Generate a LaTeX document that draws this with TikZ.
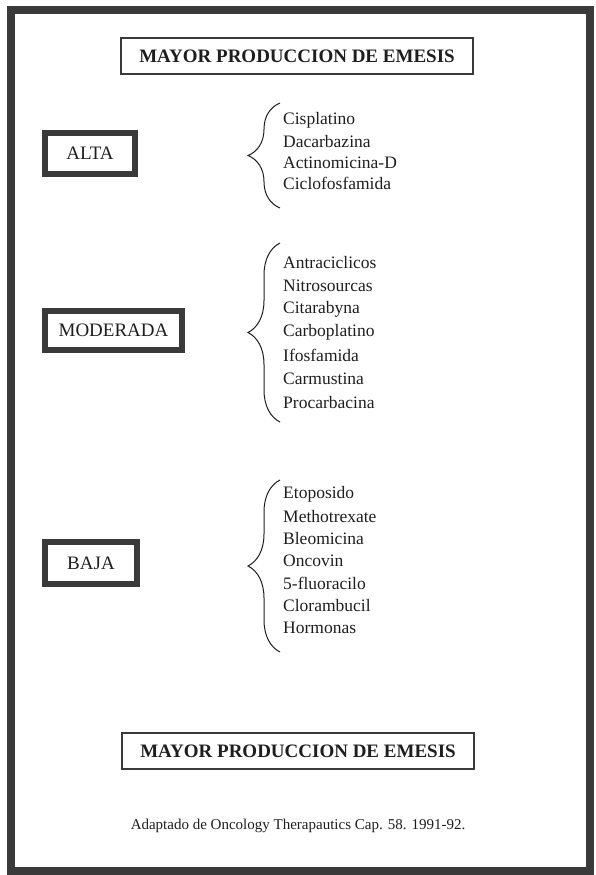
\documentclass[tikz,border=0pt]{standalone}
\usepackage{fontspec}
\setmainfont{Liberation Serif}
\usetikzlibrary{positioning,decorations.pathreplacing}

\definecolor{framegray}{HTML}{3A3A3A}
\definecolor{inkgray}{HTML}{1E1E1E}
\newcommand\headtextstyle{\fontsize{19}{21}\selectfont\bfseries}
\newcommand\leveltextstyle{\fontsize{19}{21}\selectfont}
\newcommand\drugtextstyle{\fontsize{17.5}{19}\selectfont}
\newcommand\notetextstyle{\fontsize{15}{17}\selectfont}
\newcommand\bracex{280}
\tikzset{
  headbox/.style={draw=framegray, line width=1.3, minimum width=352, minimum height=36,
    inner sep=0, text=inkgray, font=\headtextstyle},
  levelbox/.style={draw=framegray, line width=6, inner sep=0, text=inkgray, font=\leveltextstyle},
  drugtext/.style={anchor=west, inner sep=0, text=inkgray, font=\drugtextstyle},
  drugbrace/.style={draw=inkgray, line width=1, decorate,
    decoration={brace, amplitude=32}},
}

\begin{document}
\begin{tikzpicture}[x=1pt, y=-1pt]
  \useasboundingbox (0,0) rectangle (596,875);
  \draw[line width=8, framegray] (11,10) rectangle (590,871);

  \node[headbox] (headtop) at (297,56) {MAYOR PRODUCCION DE EMESIS};
  \node[headbox] (headbottom) at (298,751) {MAYOR PRODUCCION DE EMESIS};

  % niveles
  \node[levelbox, minimum width=90, minimum height=41] (alta) at (90,153.5) {ALTA};
  \node[levelbox, minimum width=137, minimum height=39] (moderada) at (113.5,330.5) {MODERADA};
  \node[levelbox, minimum width=92, minimum height=42] (baja) at (91,563) {BAJA};

  % farmacos
  \foreach \drug [count=\i] in {Cisplatino, Dacarbazina, Actinomicina-D, Ciclofosfamida}
    \node[drugtext] (alta-\i) at (283, {120+21.3*(\i-1)}) {\drug};
  \foreach \drug [count=\i] in {Antraciclicos, Nitrosourcas, Citarabyna, Carboplatino,
      Ifosfamida, Carmustina, Procarbacina}
    \node[drugtext] (moderada-\i) at (283, {263+23.2*(\i-1)}) {\drug};
  \foreach \drug [count=\i] in {Etoposido, Methotrexate, Bleomicina, Oncovin,
      5-fluoracilo, Clorambucil, Hormonas}
    \node[drugtext] (baja-\i) at (283, {494+22.3*(\i-1)}) {\drug};

  % llaves
  \coordinate (alta-top) at (\bracex,103);
  \coordinate (alta-bot) at (\bracex,208);
  \coordinate (moderada-top) at (\bracex,243);
  \coordinate (moderada-bot) at (\bracex,422);
  \coordinate (baja-top) at (\bracex,480);
  \coordinate (baja-bot) at (\bracex,652);
  \draw[drugbrace] (alta-bot) -- (alta-top);
  \draw[drugbrace] (moderada-bot) -- (moderada-top);
  \draw[drugbrace] (baja-bot) -- (baja-top);

  \node[text=inkgray, font=\notetextstyle, inner sep=0] (fuente) at (298,826)
    {Adaptado de Oncology Therapautics Cap. 58. 1991-92.};
\end{tikzpicture}
\end{document}
